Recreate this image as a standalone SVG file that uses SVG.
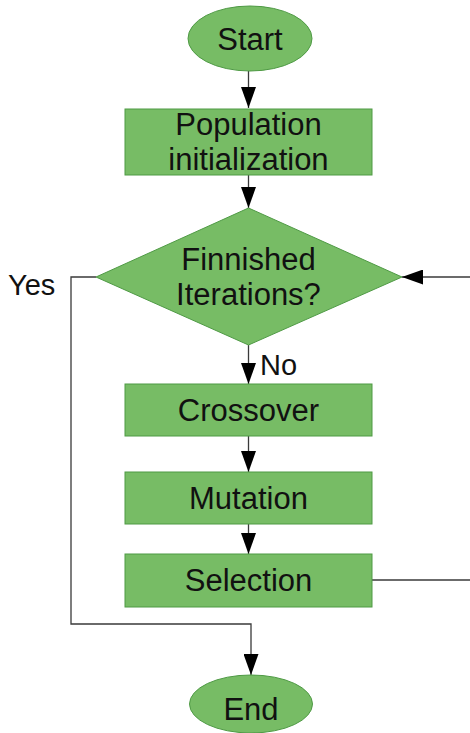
<svg xmlns="http://www.w3.org/2000/svg" width="470" height="733" viewBox="0 0 470 733">
<style>
.node{fill:#77bc65;stroke:#4f9a45;stroke-width:1}
.lbl{font-family:"Liberation Sans",Arial,sans-serif;font-size:31px;fill:#111;text-anchor:middle}
.side{font-family:"Liberation Sans",Arial,sans-serif;font-size:29px;fill:#111}
.edge{fill:none;stroke:#3a3a3a;stroke-width:1.3}
</style>
<defs>
<marker id="ah" markerUnits="userSpaceOnUse" markerWidth="21" markerHeight="15" refX="21" refY="7.5" orient="auto">
<path d="M0,0 L21,7.5 L0,15 z" fill="#000"/>
</marker>
</defs>
<rect width="470" height="733" fill="#fff"/>
<g id="connectors">
<path class="edge" d="M248.5,71 V108" marker-end="url(#ah)"/>
<path class="edge" d="M248.5,175 V208" marker-end="url(#ah)"/>
<path class="edge" d="M248.5,345 V384" marker-end="url(#ah)"/>
<path class="edge" d="M248.5,436 V472" marker-end="url(#ah)"/>
<path class="edge" d="M248.5,524 V554" marker-end="url(#ah)"/>
<path class="edge" d="M96,277 H71 V624 H251 V675" marker-end="url(#ah)"/>
<path class="edge" d="M372,580 H470"/>
<path class="edge" d="M470,277 H402" marker-end="url(#ah)"/>
<text class="side" x="8" y="295">Yes</text>
<text class="side" x="260" y="375">No</text>
</g>
<g id="start">
<ellipse class="node" cx="250" cy="38.5" rx="62" ry="32.5"/>
<text class="lbl" x="250" y="50">Start</text>
</g>
<g id="init">
<rect class="node" x="125" y="109" width="247" height="66"/>
<text class="lbl" x="248.5" y="135">Population</text>
<text class="lbl" x="248.5" y="170">initialization</text>
</g>
<g id="decision">
<polygon class="node" points="248.5,208 402,277 248.5,345 96,277"/>
<text class="lbl" x="248.5" y="270">Finnished</text>
<text class="lbl" x="248.5" y="305">Iterations?</text>
</g>
<g id="crossover">
<rect class="node" x="125" y="384" width="247" height="52"/>
<text class="lbl" x="248.5" y="421">Crossover</text>
</g>
<g id="mutation">
<rect class="node" x="125" y="472" width="247" height="52"/>
<text class="lbl" x="248.5" y="509">Mutation</text>
</g>
<g id="selection">
<rect class="node" x="125" y="554" width="247" height="53"/>
<text class="lbl" x="248.5" y="591">Selection</text>
</g>
<g id="end">
<ellipse class="node" cx="251" cy="704" rx="61.5" ry="29"/>
<text class="lbl" x="251" y="720">End</text>
</g>
</svg>
